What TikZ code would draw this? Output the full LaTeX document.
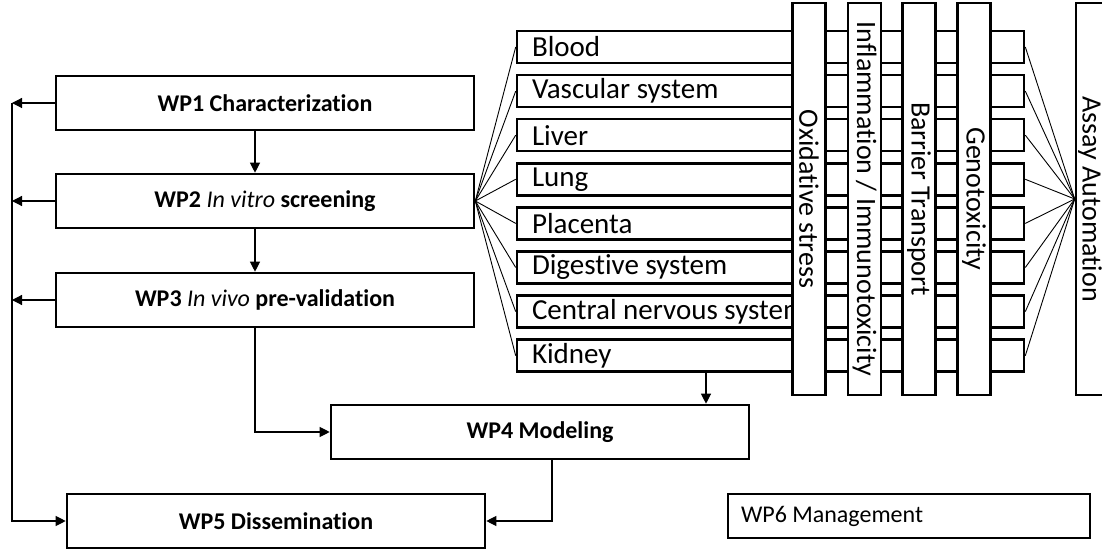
\documentclass[tikz,border=0pt]{standalone}
\usepackage{fontspec}
\setmainfont{Carlito}[Ligatures=NoCommon]
\usetikzlibrary{arrows.meta}

\begin{document}
\begin{tikzpicture}[x=0.5pt,y=-0.5pt,
    wp/.style={draw,line width=1.3pt,minimum width=209pt,minimum height=27pt,inner sep=0pt,font=\fontsize{12}{14}\selectfont\bfseries},
    organ/.style={draw,fill=white,line width=1.3pt,text width=238.5pt,inner xsep=7.5pt,inner ysep=0pt,minimum height=16pt,align=flush left,font=\fontsize{14.5}{16}\selectfont},
    bar/.style={draw,fill=white,line width=1.3pt,rotate=-90,minimum width=196pt,minimum height=16.5pt,inner sep=0pt,font=\fontsize{14}{16}\selectfont},
    conn/.style={line width=0.6pt,-{Triangle[length=5pt,width=5pt]}},
    fan/.style={line width=0.45pt}]
    \clip (0,0) rectangle (1102,550);
    \node[wp] (wp1) at (265,103) {WP1 Characterization};
    \node[wp] (wp2) at (265,201) {WP2 \textit{\mdseries In vitro} screening};
    \node[wp] (wp3) at (265,300) {WP3 \textit{\mdseries In vivo} pre-validation};
    \node[wp] (wp4) at (540,432) {WP4 Modeling};
    \node[wp] (wp5) at (276,521) {WP5 Dissemination};
    \node[draw,line width=0.6pt,minimum width=181pt,minimum height=22pt,text width=168pt,inner xsep=6.5pt,align=flush left,font=\fontsize{12}{14}\selectfont] (wp6) at (909,516) {WP6 Management};
    \coordinate (spine) at (12,0);
    \coordinate (mid) at (255,0);
    \coordinate (drop) at (706,0);
    \coordinate (side) at (552,0);
    \foreach \name [count=\i] in {Blood,Vascular system,Liver,Lung,Placenta,Digestive system,Central nervous system,Kidney}
        \node[organ] (o\i) at (770.5,{47+44.1*(\i-1)}) {\name};
    \node[bar] (ox) at (809,199) {Oxidative stress};
    \node[bar] (inf) at (864.5,199) {Inflammation / Immunotoxicity};
    \node[bar] (bt) at (919,199) {Barrier Transport};
    \node[bar] (gt) at (974,199) {Genotoxicity};
    \node[bar,minimum height=14pt] (assay) at (1090,199) {Assay Automation};
    \foreach \i in {1,...,8} {
        \draw[fan] (wp2.east) -- (o\i.west);
        \draw[fan] (o\i.east) -- (assay.south);
    }
    \draw[conn] (wp1.west) -- (wp1.west -| spine);
    \draw[conn] (wp2.west) -- (wp2.west -| spine);
    \draw[conn] (wp3.west) -- (wp3.west -| spine);
    \draw[conn] (wp1.west -| spine) |- (wp5.west);
    \draw[conn] (wp1.south -| mid) -- (wp2.north -| mid);
    \draw[conn] (wp2.south -| mid) -- (wp3.north -| mid);
    \draw[conn] (wp3.south -| mid) |- (wp4.west);
    \draw[conn] (o8.south -| drop) -- (wp4.north -| drop);
    \draw[conn] (wp4.south -| side) |- (wp5.east);
\end{tikzpicture}
\end{document}
